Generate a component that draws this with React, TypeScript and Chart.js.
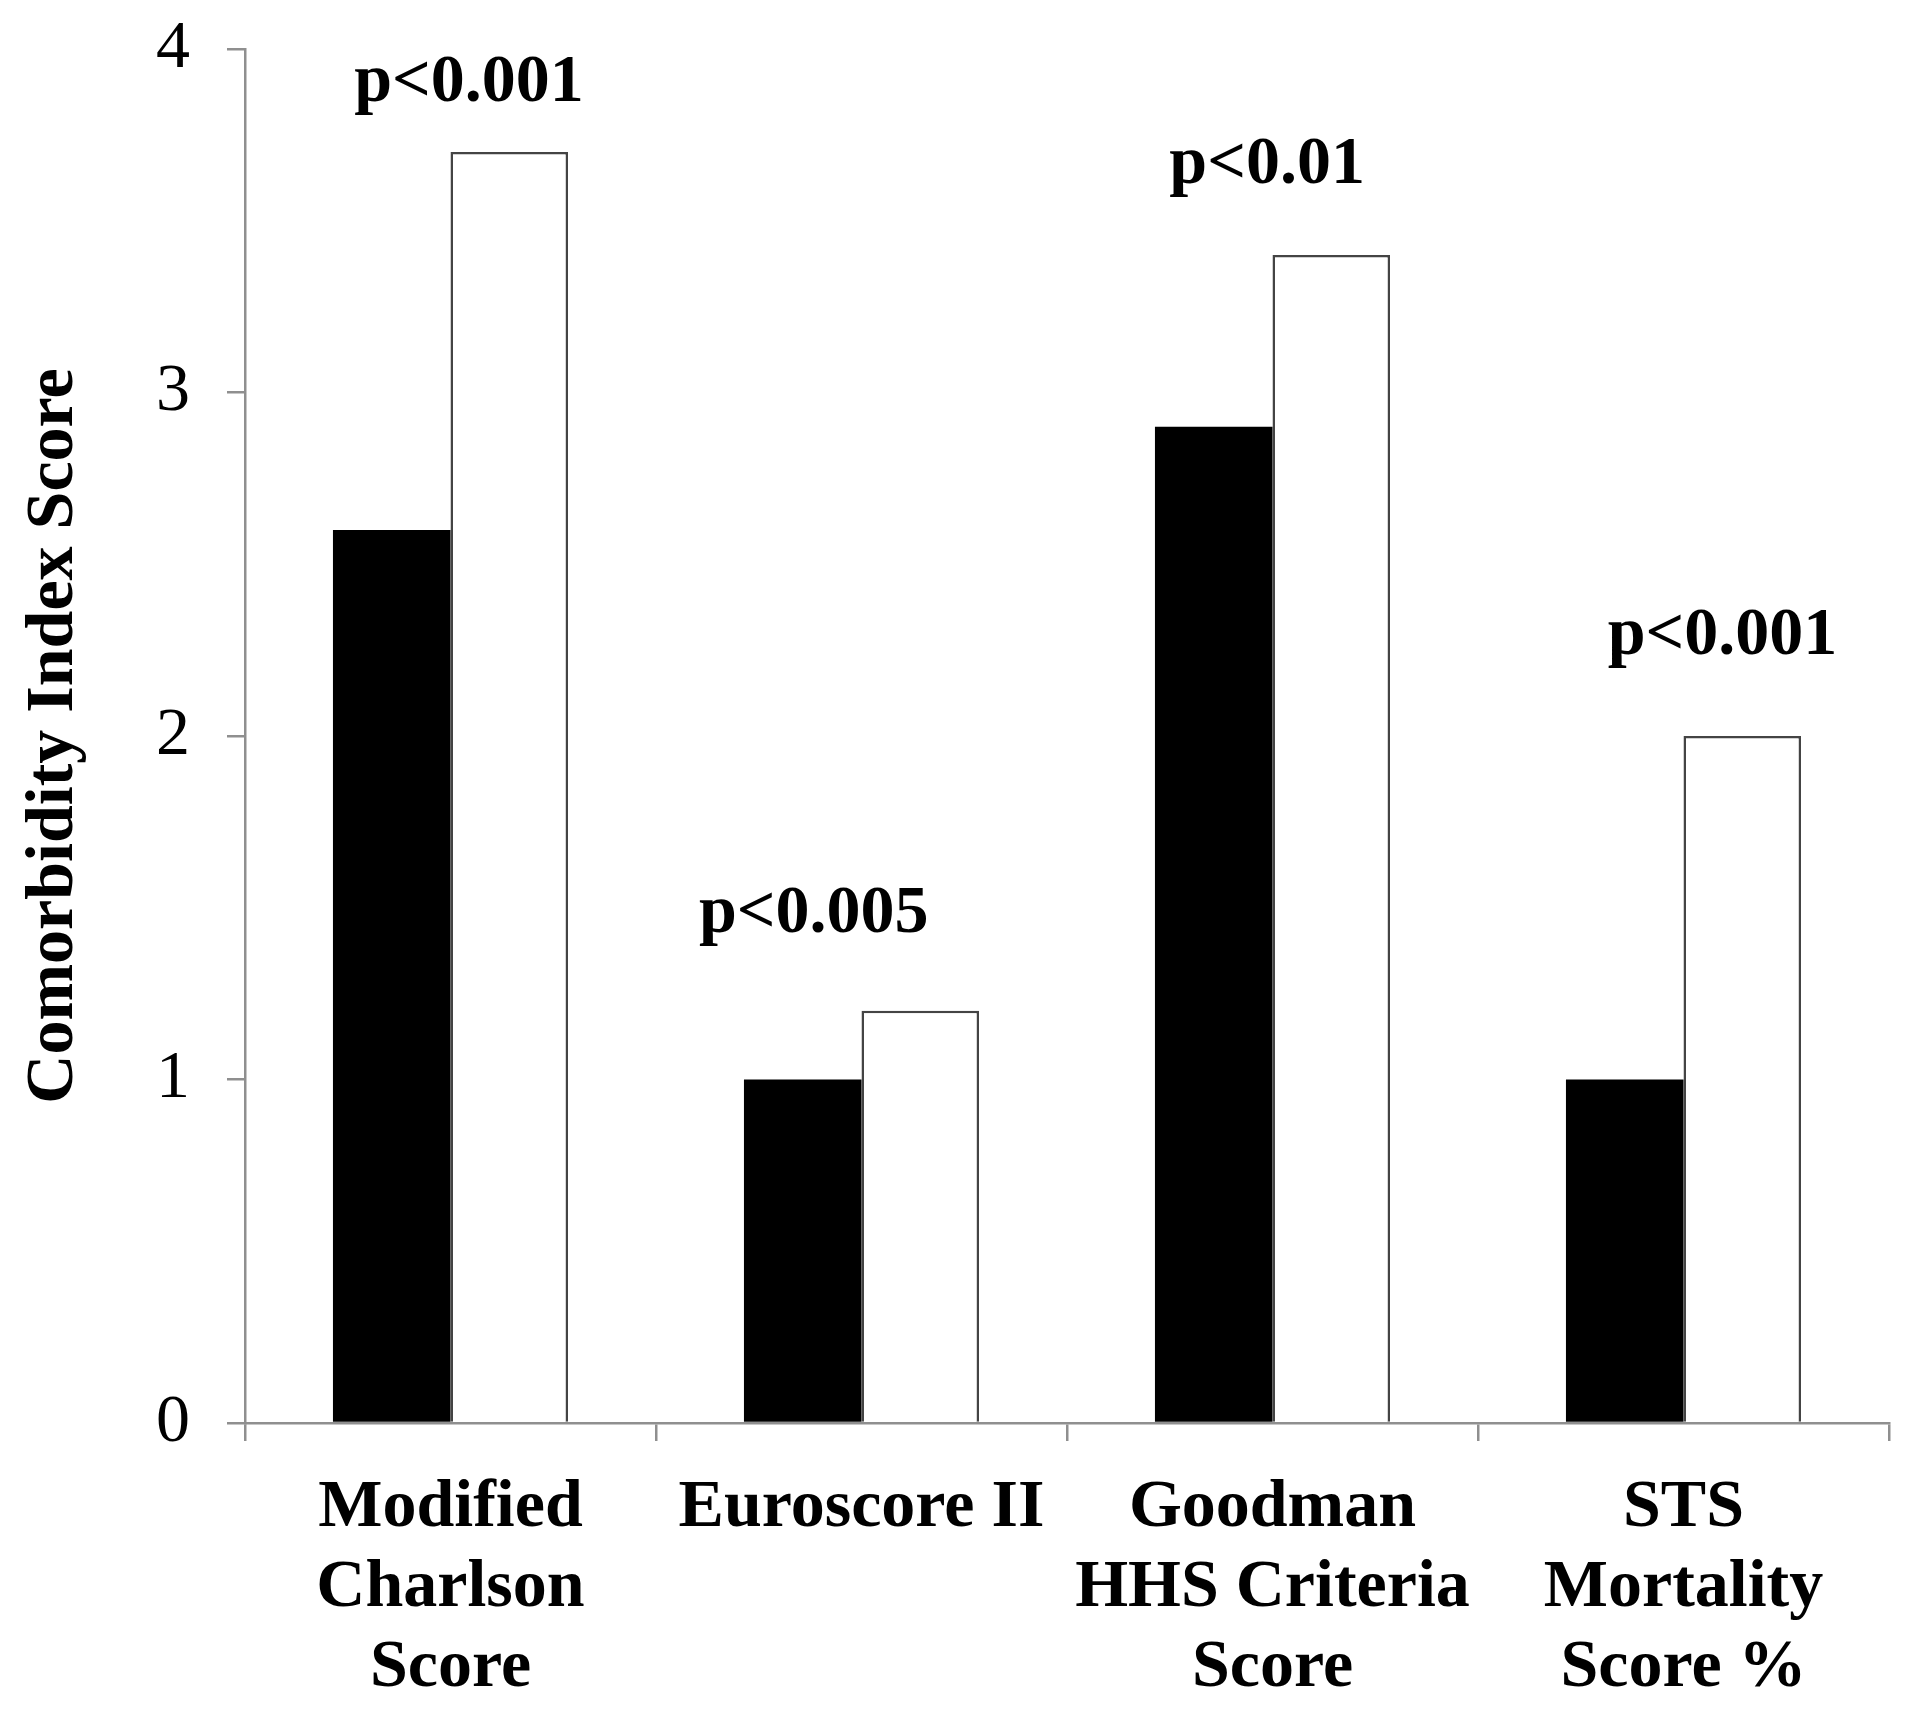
import React, { useEffect, useRef } from "react";
import { Chart, registerables } from "chart.js";

Chart.register(...registerables);

// ---- data ----
const categories: string[][] = [
  ["Modified", "Charlson", "Score"],
  ["Euroscore II"],
  ["Goodman", "HHS Criteria", "Score"],
  ["STS", "Mortality", "Score %"],
];
const seriesBlack: number[] = [2.6, 1.0, 2.9, 1.0];
const seriesWhite: number[] = [3.7, 1.2, 3.4, 2.0];
const yTicks: number[] = [0, 1, 2, 3, 4];
const yTitle = "Comorbidity Index Score";
const pLabels: string[] = ["p<0.001", "p<0.005", "p<0.01", "p<0.001"];
// annotation anchors in data units (value axis baseline, category offset)
const pLabelValue: number[] = [3.85, 1.43, 3.61, 2.24];
const pLabelShift: number[] = [0.045, -0.116, -0.013, 0.095];

const SERIF = "'Liberation Serif', 'Times New Roman', serif";
const AXIS_GRAY = "#8f8f8f";

const pValuePlugin = {
  id: "pValues",
  afterDatasetsDraw(chart: any) {
    const { ctx, scales } = chart;
    const xs = scales.x;
    const ys = scales.y;
    ctx.save();
    ctx.font = `bold 68px ${SERIF}`;
    ctx.fillStyle = "#000";
    ctx.textAlign = "center";
    ctx.textBaseline = "alphabetic";
    pLabels.forEach((t, i) => {
      const x = xs.getPixelForValue(i + pLabelShift[i]);
      const y = ys.getPixelForValue(pLabelValue[i]);
      ctx.fillText(t, x, y);
    });
    ctx.restore();
  },
};

export default function App() {
  const ref = useRef<HTMLCanvasElement | null>(null);

  useEffect(() => {
    document.body.style.margin = "0";
    const canvas = ref.current;
    if (!canvas) return;
    const chart = new Chart(canvas, {
      type: "bar",
      data: {
        labels: categories,
        datasets: [
          {
            label: "Group A",
            data: seriesBlack,
            backgroundColor: "#000000",
            borderColor: "#111111",
            borderWidth: 0,
          },
          {
            label: "Group B",
            data: seriesWhite,
            backgroundColor: "#ffffff",
            borderColor: "#444444",
            borderWidth: 2.5,
          },
        ],
      },
      options: {
        responsive: false,
        animation: false,
        devicePixelRatio: 1,
        layout: { padding: { top: 49, right: 31, bottom: 0, left: 0 } },
        datasets: {
          bar: { categoryPercentage: 0.572, barPercentage: 1.0 },
        },
        plugins: {
          legend: { display: false },
          tooltip: { enabled: false },
          title: { display: false },
        },
        scales: {
          x: {
            type: "category",
            offset: true,
            grid: {
              offset: true,
              drawOnChartArea: false,
              drawTicks: true,
              tickLength: 18,
              color: AXIS_GRAY,
              lineWidth: 2.5,
            },
            border: { display: true, color: AXIS_GRAY, width: 2.5 },
            ticks: {
              color: "#000",
              padding: 27,
              maxRotation: 0,
              minRotation: 0,
              autoSkip: false,
              font: { family: SERIF, size: 68, weight: "bold", lineHeight: 1.18 },
            },
            afterFit(scale: any) {
              scale.height = 287;
              scale.paddingLeft = 0;
              scale.paddingRight = 0;
            },
          },
          y: {
            min: 0,
            max: 4,
            afterBuildTicks(scale: any) {
              scale.ticks = yTicks.map((v) => ({ value: v }));
            },
            grid: {
              drawOnChartArea: false,
              drawTicks: true,
              tickLength: 18,
              color: AXIS_GRAY,
              lineWidth: 2.5,
            },
            border: { display: true, color: AXIS_GRAY, width: 2.5 },
            ticks: {
              color: "#000",
              padding: 37,
              font: { family: SERIF, size: 68, weight: "normal" },
              callback: (v: any) => String(v),
            },
            title: {
              display: true,
              text: yTitle,
              color: "#000",
              font: { family: SERIF, size: 68, weight: "bold", lineHeight: 1.2 },
              padding: { top: 14, bottom: 0 },
            },
            afterFit(scale: any) {
              scale.width = 245;
              scale.paddingTop = 0;
              scale.paddingBottom = 0;
            },
          },
        },
      },
      plugins: [pValuePlugin],
    });
    return () => chart.destroy();
  }, []);

  return (
    <div style={{ width: 1920, height: 1710, background: "#fff" }}>
      <canvas ref={ref} width={1920} height={1710} style={{ display: "block" }} />
    </div>
  );
}
